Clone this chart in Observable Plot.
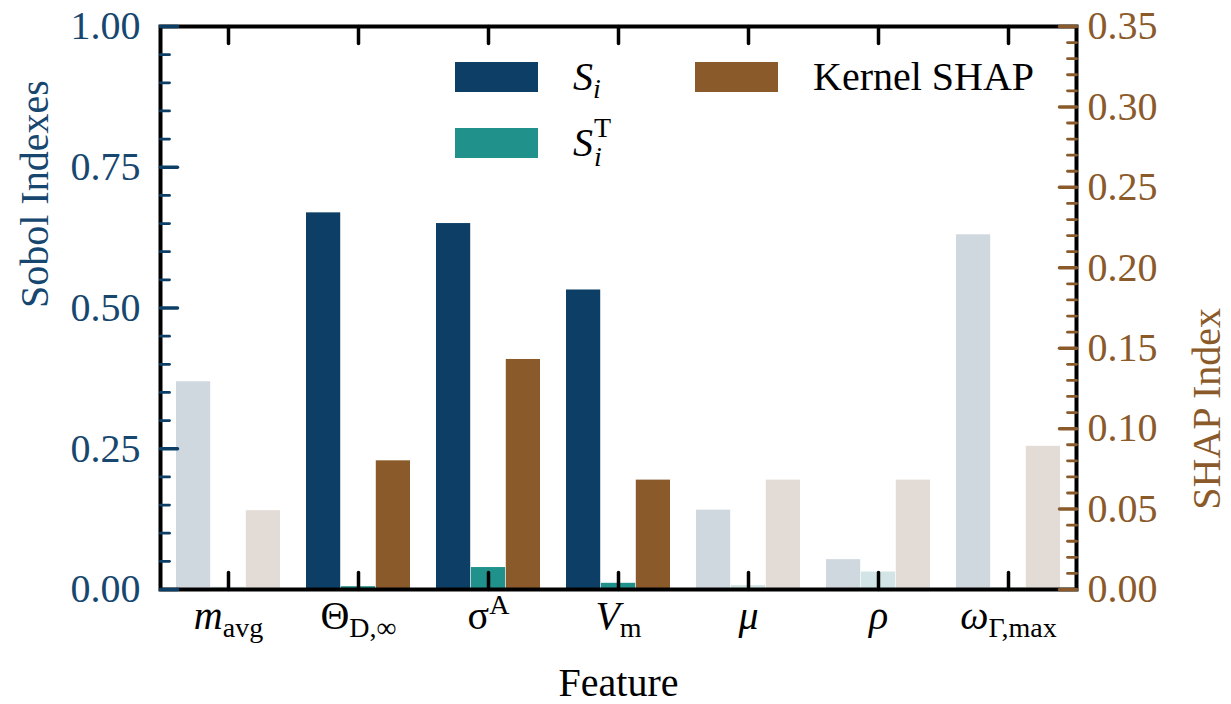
<!DOCTYPE html>
<html><head><meta charset="utf-8">
<script src="https://cdn.jsdelivr.net/npm/d3@7"></script>
<script src="https://cdn.jsdelivr.net/npm/@observablehq/plot@0.6"></script>
<style>
body{margin:0;background:#fff;}
#wrap{position:relative;width:1231px;height:704px;font-family:"Liberation Serif","Times New Roman",serif;}
.leg{position:absolute;display:flex;align-items:center;height:30px;font-size:40px;line-height:1;color:#000;white-space:nowrap;}
.sw{width:83px;height:30px;margin-right:35px;flex:none;}
.sub{font-size:0.7em;position:relative;top:0.3em;}
.ss{position:relative;display:inline-block;width:16px;height:0;vertical-align:baseline;}
.ss .a{position:absolute;left:1px;bottom:14px;font-size:28px;line-height:1;}
.ss .b{position:absolute;left:1px;bottom:-15px;font-size:28px;line-height:1;}
</style></head><body><div id="wrap"></div>
<script>
// ---- data ----
const features = ["m_avg", "Theta_Dinf", "sigma_A", "V_m", "mu", "rho", "omega_Gmax"];
const highlighted = [false, true, true, true, false, false, false];
const sobolFirst = [0.369, 0.669, 0.650, 0.532, 0.141, 0.053, 0.630];   // S_i
const sobolTotal = [0.004, 0.005, 0.039, 0.011, 0.007, 0.031, 0.003];   // S_i^T
const shapValues = [0.049, 0.080, 0.143, 0.068, 0.068, 0.068, 0.089];   // Kernel SHAP
const sobolTicks = [0, 0.25, 0.5, 0.75, 1.0];
const shapTicks = [0, 0.05, 0.10, 0.15, 0.20, 0.25, 0.30, 0.35];
const shapMax = 0.35;
const featureLabels = {
  m_avg: [["m", "i"], ["avg", "sub"]],
  Theta_Dinf: [["Θ", "n"], ["D,∞", "sub"]],
  sigma_A: [["σ", "n"], ["A", "sup"]],
  V_m: [["V", "i"], ["m", "sub"]],
  mu: [["μ", "i"]],
  rho: [["ρ", "i"]],
  omega_Gmax: [["ω", "i"], ["Γ,max", "sub"]]
};
const legendItems = [
  {html: '<i>S</i><i class="sub">i</i>', color: "#0d3f66", left: 455, top: 62},
  {html: '<i>S</i><span class="ss"><span class="a">T</span><i class="b">i</i></span>', color: "#21918c", left: 455, top: 128},
  {html: 'Kernel SHAP', color: "#8b5a2b", left: 695, top: 62}
];

// ---- style ----
const BLUE = "#0d3f66", TEAL = "#21918c", BROWN = "#8b5a2b";
const BLUE_TXT = "#17476f";
const W = 1231, H = 704, ML = 160, MR = 155, MT = 26, MB = 115;
const FONT = "Liberation Serif, Times New Roman, serif";
const fade = c => d3.interpolateRgb("#f4f4f6", c)(0.16);

const rows = features.map((f, i) => ({
  f, hi: highlighted[i], si: sobolFirst[i], st: sobolTotal[i], sh: shapValues[i] / shapMax
}));
const bw = (W - ML - MR) / features.length * 0.8 / 3;

const tickShape = {draw(ctx, l) { ctx.moveTo(0, 0); ctx.lineTo(0, -l); }};
const sobolMinor = d3.range(0, 1.0001, 0.05).filter(v => !sobolTicks.some(t => Math.abs(t - v) < 1e-6));
const shapMinor = d3.range(0, 0.3501, 0.01).filter(v => !shapTicks.some(t => Math.abs(t - v) < 1e-6));

const chart = Plot.plot({
  width: W, height: H,
  marginLeft: ML, marginRight: MR, marginTop: MT, marginBottom: MB,
  style: {fontFamily: FONT, background: "white", overflow: "visible"},
  x: {type: "band", domain: features, paddingInner: 0.2, paddingOuter: 0.1, axis: null},
  y: {domain: [0, 1], axis: null},
  marks: [
    Plot.barY(rows, {x: "f", y: "si", fill: d => d.hi ? BLUE : fade(BLUE), insetRight: 2 * bw}),
    Plot.barY(rows, {x: "f", y: "st", fill: d => d.hi ? TEAL : fade(TEAL), insetLeft: bw, insetRight: bw}),
    Plot.barY(rows, {x: "f", y: "sh", fill: d => d.hi ? BROWN : fade(BROWN), insetLeft: 2 * bw}),
    Plot.frame({stroke: "black", strokeWidth: 4}),
    // left ticks
    Plot.vector(sobolTicks, {y: d => d, frameAnchor: "left", anchor: "start", rotate: 90, length: 17, shape: tickShape, stroke: BLUE, strokeWidth: 3.5}),
    Plot.vector(sobolMinor, {y: d => d, frameAnchor: "left", anchor: "start", rotate: 90, length: 9, shape: tickShape, stroke: BLUE, strokeWidth: 2.8}),
    // right ticks
    Plot.vector(shapTicks, {y: d => d / shapMax, frameAnchor: "right", anchor: "start", rotate: -90, length: 17, shape: tickShape, stroke: BROWN, strokeWidth: 3.5}),
    Plot.vector(shapMinor, {y: d => d / shapMax, frameAnchor: "right", anchor: "start", rotate: -90, length: 9, shape: tickShape, stroke: BROWN, strokeWidth: 2.8}),
    // x ticks bottom/top
    Plot.vector(features, {x: d => d, frameAnchor: "bottom", anchor: "start", rotate: 0, length: 17, shape: tickShape, stroke: "black", strokeWidth: 3.5}),
    Plot.vector(features, {x: d => d, frameAnchor: "top", anchor: "start", rotate: 180, length: 17, shape: tickShape, stroke: "black", strokeWidth: 3.5}),
    // tick labels
    Plot.text(sobolTicks, {y: d => d, frameAnchor: "left", dx: -20, textAnchor: "end", text: d => d.toFixed(2), fontSize: 40, fill: BLUE_TXT}),
    Plot.text(shapTicks, {y: d => d / shapMax, frameAnchor: "right", dx: 11, textAnchor: "start", text: d => d.toFixed(2), fontSize: 40, fill: BROWN}),
    Plot.text(features, {x: d => d, frameAnchor: "bottom", dy: 39, text: d => d, fontSize: 40, fill: "black"}),
    // axis titles
    Plot.text(["Feature"], {frameAnchor: "bottom", dy: 106, text: d => d, fontSize: 40, fill: "black"}),
    Plot.text(["Sobol Indexes"], {frameAnchor: "left", dx: -125, rotate: -90, text: d => d, fontSize: 40, fill: BLUE_TXT}),
    Plot.text(["SHAP Index"], {frameAnchor: "right", dx: 131, rotate: -90, text: d => d, fontSize: 40, fill: BROWN})
  ]
});

// rich math labels for feature ticks
const NS = "http://www.w3.org/2000/svg";
chart.querySelectorAll("text").forEach(t => {
  const parts = featureLabels[t.textContent];
  if (!parts) return;
  t.textContent = "";
  for (const [s, kind] of parts) {
    const ts = document.createElementNS(NS, "tspan");
    ts.textContent = s;
    if (kind === "i") ts.setAttribute("font-style", "italic");
    if (kind === "sub") { ts.setAttribute("font-size", "28"); ts.setAttribute("dy", "8"); }
    if (kind === "sup") { ts.setAttribute("font-size", "28"); ts.setAttribute("dy", "-15"); }
    t.appendChild(ts);
  }
});

const wrap = document.getElementById("wrap");
wrap.appendChild(chart);
for (const it of legendItems) {
  const d = document.createElement("div");
  d.className = "leg";
  d.style.left = it.left + "px";
  d.style.top = it.top + "px";
  d.innerHTML = `<div class="sw" style="background:${it.color}"></div><span>${it.html}</span>`;
  wrap.appendChild(d);
}
</script></body></html>
